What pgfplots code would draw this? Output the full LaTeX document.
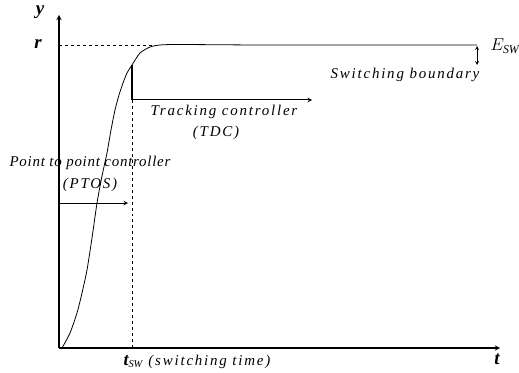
\documentclass[border=0pt]{standalone}
\usepackage{fontspec}
\setmainfont{Liberation Serif}
\newfontfamily\labfont[LetterSpace=12,Ligatures=TeX]{Liberation Serif}
\newfontfamily\labfontb[LetterSpace=5,Ligatures=TeX]{Liberation Serif}
\usepackage{pgfplots}
\pgfplotsset{compat=1.18}
\newcommand{\lab}{\labfont\itshape\fontsize{15}{15}\selectfont}
\newcommand{\labb}{\labfontb\itshape\fontsize{15}{15}\selectfont}
\begin{document}
\begin{tikzpicture}[x=1bp,y=1bp]
\path[use as bounding box] (-59,-24) rectangle (460,348);
\begin{axis}[
  scale only axis, width=441bp, height=333bp,
  xmin=0, xmax=441, ymin=0, ymax=333,
  axis lines=left,
  axis line style={line width=1.3pt, -stealth},
  xtick=\empty, ytick=\empty,
  clip=false,
]
\addplot[black, line width=0.8pt, smooth, tension=0.4] coordinates {
 (3,0) (11,15) (18,35) (23,55) (28,78) (33,110) (38,145) (43,172) (48,195) (52,218) (56,238) (60,253) (64,265) (68,275) (73,283) (81,295) (91,301) (101,303) (120,303.5) (200,303) (300,303) (418,303)
};
\draw[dashed, line width=0.7pt] (axis cs:0,303) -- (axis cs:96,303);
\draw[dashed, line width=1pt] (axis cs:73,0) -- (axis cs:73,248);
\draw[line width=1.4pt] (axis cs:73,248) -- (axis cs:73,283);
\draw[line width=1pt, -stealth] (axis cs:73,248) -- (axis cs:253,248);
\draw[line width=1pt, -stealth] (axis cs:0,145) -- (axis cs:69,145);
\draw[line width=0.8pt, stealth-stealth] (axis cs:418,302) -- (axis cs:418,283);
\node[font=\lab] at (axis cs:165,236) {Tracking controller};
\node[font=\lab] at (axis cs:157,215) {(TDC)};
\node[font=\labb] at (axis cs:31,185) {Point to point controller};
\node[font=\lab] at (axis cs:31,163) {(PTOS)};
\node[font=\lab] at (axis cs:346,273) {Switching boundary};
\node[anchor=west, font=\fontsize{17}{17}\selectfont] at (axis cs:428,302) {$E_{\mathit{SW}}$};
\node[anchor=west, font=\lab] at (axis cs:61,-14) {{\fontsize{18}{18}\selectfont\bfseries t}$_{\mathit{SW}}$ (switching time)};
\node[font=\fontsize{19}{19}\selectfont\bfseries\itshape] at (axis cs:438,-11) {t};
\node[font=\fontsize{19}{19}\selectfont\bfseries\itshape] at (axis cs:-19,336) {y};
\node[font=\fontsize{19}{19}\selectfont\bfseries\itshape] at (axis cs:-21,304) {r};
\end{axis}
\end{tikzpicture}
\end{document}
